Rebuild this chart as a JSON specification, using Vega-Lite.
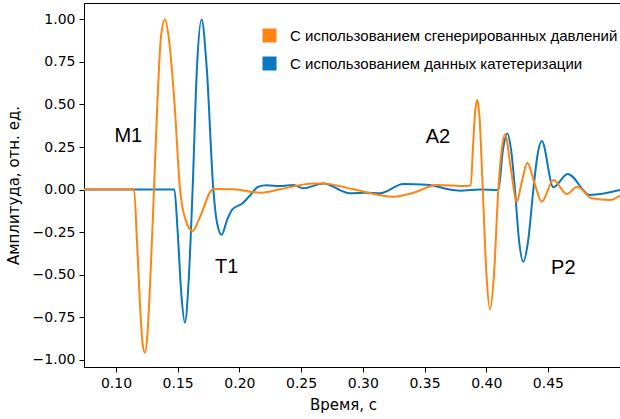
{
  "$schema": "https://vega.github.io/schema/vega-lite/v6.json",
  "autosize": {"type": "none"},
  "padding": {"left": 84, "top": 3, "right": 0, "bottom": 52},
  "width": 536,
  "height": 364,
  "config": {
    "view": {"stroke": "#000", "strokeWidth": 1},
    "axis": {
      "labelFont": "DejaVu Sans", "labelFontSize": 14, "labelColor": "#000",
      "titleFont": "DejaVu Sans", "titleFontSize": 15, "titleFontWeight": "normal", "titleColor": "#000",
      "domainColor": "#000", "tickColor": "#000", "tickSize": 5, "grid": false
    }
  },
  "layer": [
    {
      "data": {"values": [
        {"t": 0.0741, "a": 0}, {"t": 0.1473, "a": 0}, {"t": 0.1500, "a": -0.25}, {"t": 0.1530, "a": -0.62},
        {"t": 0.1559, "a": -0.783}, {"t": 0.1588, "a": -0.55}, {"t": 0.1621, "a": 0}, {"t": 0.1655, "a": 0.7},
        {"t": 0.1694, "a": 1.0}, {"t": 0.1735, "a": 0.72}, {"t": 0.1789, "a": 0}, {"t": 0.1820, "a": -0.2},
        {"t": 0.1856, "a": -0.266}, {"t": 0.1900, "a": -0.18}, {"t": 0.1940, "a": -0.12}, {"t": 0.1978, "a": -0.1},
        {"t": 0.2018, "a": -0.085}, {"t": 0.2080, "a": -0.04}, {"t": 0.2153, "a": 0.016}, {"t": 0.2220, "a": 0.025},
        {"t": 0.2329, "a": 0.02}, {"t": 0.2437, "a": 0.026}, {"t": 0.2518, "a": 0.007}, {"t": 0.2680, "a": 0.036},
        {"t": 0.2896, "a": -0.022}, {"t": 0.3031, "a": -0.019}, {"t": 0.3140, "a": -0.022}, {"t": 0.3329, "a": 0.032},
        {"t": 0.3518, "a": 0.028}, {"t": 0.3733, "a": -0.003}, {"t": 0.3788, "a": -0.007}, {"t": 0.3950, "a": 0},
        {"t": 0.4098, "a": -0.003}, {"t": 0.4135, "a": 0.23}, {"t": 0.4171, "a": 0.33}, {"t": 0.4202, "a": 0.23},
        {"t": 0.4233, "a": 0}, {"t": 0.4266, "a": -0.3}, {"t": 0.4300, "a": -0.425}, {"t": 0.4340, "a": -0.3},
        {"t": 0.4382, "a": 0}, {"t": 0.4415, "a": 0.2}, {"t": 0.4450, "a": 0.285}, {"t": 0.4544, "a": 0.013},
        {"t": 0.4660, "a": 0.091}, {"t": 0.4841, "a": -0.032}, {"t": 0.5084, "a": -0.003}
      ]},
      "mark": {"type": "line", "strokeWidth": 2, "interpolate": "monotone"},
      "encoding": {
        "x": {"field": "t", "type": "quantitative", "scale": {"domain": [0.0741, 0.5084], "nice": false, "zero": false},
          "axis": {"title": "Время, с", "values": [0.1, 0.15, 0.2, 0.25, 0.3, 0.35, 0.4, 0.45], "format": ".2f", "labelPadding": 4, "titleX": 259, "titlePadding": 7}},
        "y": {"field": "a", "type": "quantitative", "scale": {"domain": [-1.044, 1.097], "nice": false, "zero": false},
          "axis": {"title": "Амплитуда, отн. ед.", "values": [-1, -0.75, -0.5, -0.25, 0, 0.25, 0.5, 0.75, 1], "format": ".2f", "labelPadding": 4, "titlePadding": 11}},
        "color": {"datum": "С использованием данных катетеризации", "type": "nominal",
          "scale": {"domain": ["С использованием сгенерированных давлений", "С использованием данных катетеризации"], "range": ["#ff8412", "#0a78bd"]},
          "legend": {"title": null, "orient": "none", "legendX": 178, "legendY": 25, "padding": 0,
            "symbolType": "square", "symbolSize": 196, "labelFont": "Liberation Sans", "labelFontSize": 15, "labelColor": "#000",
            "labelOffset": 13, "rowPadding": 12, "labelLimit": 0,
            "encode": {"symbols": {"update": {"fill": {"scale": "color", "field": "value"}, "strokeWidth": {"value": 0}}}}}}
      }
    },
    {
      "data": {"values": [
        {"t": 0.0741, "a": 0}, {"t": 0.1146, "a": 0}, {"t": 0.1170, "a": -0.3}, {"t": 0.1195, "a": -0.68},
        {"t": 0.1215, "a": -0.9}, {"t": 0.1235, "a": -0.96}, {"t": 0.1255, "a": -0.85}, {"t": 0.1280, "a": -0.5},
        {"t": 0.1308, "a": 0}, {"t": 0.1335, "a": 0.5}, {"t": 0.1365, "a": 0.9}, {"t": 0.1397, "a": 1.0},
        {"t": 0.1430, "a": 0.88}, {"t": 0.1475, "a": 0.5}, {"t": 0.1519, "a": 0}, {"t": 0.1560, "a": -0.17},
        {"t": 0.1621, "a": -0.244}, {"t": 0.1670, "a": -0.18}, {"t": 0.1789, "a": 0.003}, {"t": 0.1950, "a": 0.001},
        {"t": 0.2167, "a": -0.019}, {"t": 0.2329, "a": 0.001}, {"t": 0.2598, "a": 0.036}, {"t": 0.2680, "a": 0.036},
        {"t": 0.2924, "a": 0.001}, {"t": 0.3248, "a": -0.042}, {"t": 0.3410, "a": -0.019}, {"t": 0.3599, "a": 0.026},
        {"t": 0.3842, "a": 0.02}, {"t": 0.3874, "a": 0.026}, {"t": 0.3895, "a": 0.28}, {"t": 0.3912, "a": 0.47},
        {"t": 0.3928, "a": 0.526}, {"t": 0.3946, "a": 0.42}, {"t": 0.3972, "a": 0}, {"t": 0.4002, "a": -0.5},
        {"t": 0.4031, "a": -0.705}, {"t": 0.4063, "a": -0.5}, {"t": 0.4098, "a": 0}, {"t": 0.4125, "a": 0.23},
        {"t": 0.4152, "a": 0.325}, {"t": 0.4200, "a": 0.12}, {"t": 0.4247, "a": -0.072}, {"t": 0.4290, "a": 0.05},
        {"t": 0.4333, "a": 0.158}, {"t": 0.4390, "a": 0.04}, {"t": 0.4450, "a": -0.072}, {"t": 0.4544, "a": 0.056},
        {"t": 0.4652, "a": -0.026}, {"t": 0.4738, "a": 0.016}, {"t": 0.4855, "a": -0.052}, {"t": 0.5003, "a": -0.062},
        {"t": 0.5084, "a": -0.036}
      ]},
      "mark": {"type": "line", "strokeWidth": 2, "interpolate": "monotone"},
      "encoding": {
        "x": {"field": "t", "type": "quantitative"},
        "y": {"field": "a", "type": "quantitative"},
        "color": {"datum": "С использованием сгенерированных давлений", "type": "nominal"}
      }
    },
    {
      "data": {"values": [
        {"t": 0.110, "a": 0.315, "label": "M1"},
        {"t": 0.1897, "a": -0.454, "label": "T1"},
        {"t": 0.3609, "a": 0.309, "label": "A2"},
        {"t": 0.4625, "a": -0.464, "label": "P2"}
      ]},
      "mark": {"type": "text", "font": "Liberation Sans", "fontSize": 20, "color": "#000", "align": "center", "baseline": "middle"},
      "encoding": {
        "x": {"field": "t", "type": "quantitative"},
        "y": {"field": "a", "type": "quantitative"},
        "text": {"field": "label"}
      }
    }
  ]
}
